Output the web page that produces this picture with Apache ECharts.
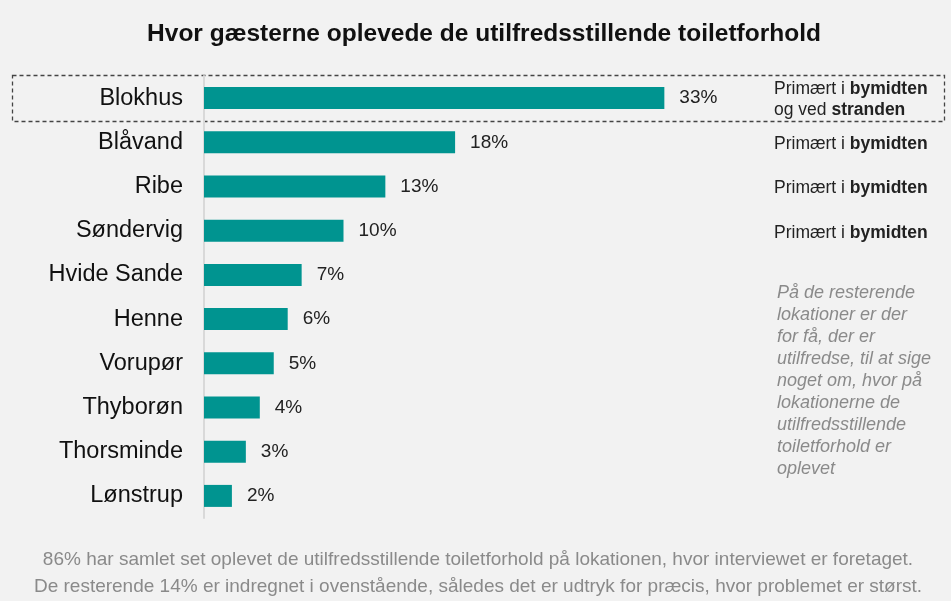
<!DOCTYPE html>
<html>
<head>
<meta charset="utf-8">
<script src="https://cdn.jsdelivr.net/npm/echarts@6/dist/echarts.min.js"></script>
<style>
  html, body { margin: 0; padding: 0; background: #f2f2f2; }
  #chart { width: 951px; height: 601px; }
</style>
</head>
<body>
<div id="chart"></div>
<script>
// data
const locations = ['Blokhus', 'Blåvand', 'Ribe', 'Søndervig', 'Hvide Sande', 'Henne', 'Vorupør', 'Thyborøn', 'Thorsminde', 'Lønstrup'];
const shares = [33, 18, 13, 10, 7, 6, 5, 4, 3, 2];
const notes = [
  '{n|Primært i }{b|bymidten}\n{n|og ved }{b|stranden}',
  '{n|Primært i }{b|bymidten}',
  '{n|Primært i }{b|bymidten}',
  '{n|Primært i }{b|bymidten}'
];
const sideText = 'På de resterende\nlokationer er der\nfor få, der er\nutilfredse, til at sige\nnoget om, hvor på\nlokationerne de\nutilfredsstillende\ntoiletforhold er\noplevet';
const footer = '86% har samlet set oplevet de utilfredsstillende toiletforhold på lokationen, hvor interviewet er foretaget.\nDe resterende 14% er indregnet i ovenstående, således det er udtryk for præcis, hvor problemet er størst.';

const chart = echarts.init(document.getElementById('chart'));

const rowTop = 76, rowH = 44.2;
const noteGraphics = notes.map((t, i) => ({
  type: 'text',
  left: 774,
  top: rowTop + rowH * i + rowH / 2 - (i === 0 ? 21 : 10) + 3,
  style: {
    text: t,
    rich: {
      n: { fontFamily: 'Liberation Sans', fontSize: 17.5, fill: '#222', lineHeight: 21 },
      b: { fontFamily: 'Liberation Sans', fontSize: 17.5, fontWeight: 'bold', fill: '#222', lineHeight: 21 }
    }
  }
}));

const option = {
  backgroundColor: '#f2f2f2',
  animation: false,
  title: {
    text: 'Hvor gæsterne oplevede de utilfredsstillende toiletforhold',
    left: 479,
    top: 17,
    textAlign: 'center',
    textStyle: { fontFamily: 'Liberation Sans', fontSize: 24.5, fontWeight: 'bold', color: '#111' }
  },
  grid: { left: 204, top: rowTop, width: 558, height: rowH * 10 },
  xAxis: {
    type: 'value', min: 0, max: 40,
    show: false
  },
  yAxis: {
    type: 'category',
    data: locations,
    inverse: true,
    axisLine: { show: true, lineStyle: { color: '#d9d9d9', width: 2 } },
    axisTick: { show: false },
    axisLabel: { fontFamily: 'Liberation Sans', fontSize: 23.5, color: '#111', margin: 21 }
  },
  series: [{
    type: 'bar',
    data: shares,
    barWidth: 22,
    itemStyle: { color: '#009490' },
    label: {
      show: true, position: 'right', distance: 15,
      formatter: '{c}%',
      fontFamily: 'Liberation Sans', fontSize: 19, color: '#222'
    }
  }],
  graphic: [
    {
      type: 'rect',
      shape: { x: 12.5, y: 75.5, width: 932, height: 46 },
      style: { fill: 'none', stroke: '#444', lineWidth: 1.3, lineDash: [4, 3] }
    },
    ...noteGraphics,
    {
      type: 'text', left: 777, top: 282,
      style: { text: sideText, fontFamily: 'Liberation Sans', fontStyle: 'italic', fontSize: 18, lineHeight: 22, fill: '#8a8a8a' }
    },
    {
      type: 'text',
      style: { x: 478, y: 546, text: footer, textAlign: 'center', fontFamily: 'Liberation Sans', fontSize: 19, lineHeight: 27, fill: '#8a8a8a' }
    }
  ]
};
chart.setOption(option);
</script>
</body>
</html>
